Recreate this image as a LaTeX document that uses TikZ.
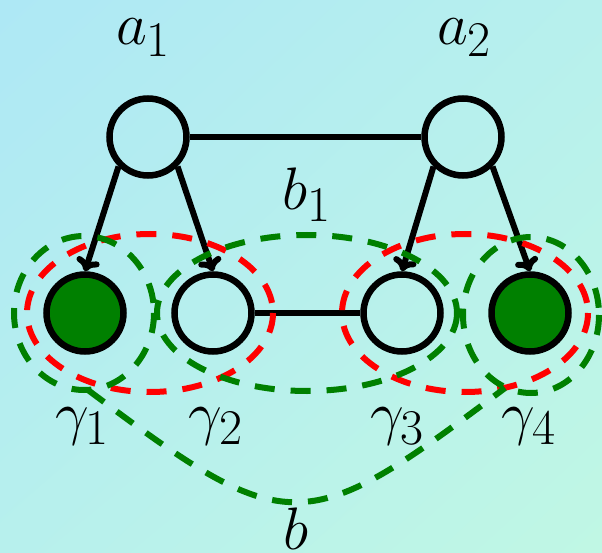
\documentclass[tikz,border=0pt]{standalone}
\usetikzlibrary{arrows.meta,shadings}
\definecolor{bgtl}{RGB}{174,232,245}
\definecolor{bgbr}{RGB}{192,247,228}
\definecolor{bgmix}{RGB}{183,240,237}
\definecolor{dkgreen}{RGB}{0,128,0}
\begin{document}
\begin{tikzpicture}[x=1pt,y=-1pt,
  vert/.style={circle,draw=black,line width=6.5pt,minimum size=77pt,inner sep=0pt},
  obs/.style={vert,fill=dkgreen},
  edge/.style={line width=6pt},
  arr/.style={edge,-{Computer Modern Rightarrow[length=13pt,width=24pt]}},
  lab/.style={font=\Huge,scale=2.41,inner sep=0pt,anchor=base},
  redset/.style={draw=red,line width=6pt,dash pattern=on 20pt off 16pt},
  greenset/.style={draw=dkgreen,line width=6pt,dash pattern=on 20pt off 16pt},
]
\useasboundingbox (0,0) rectangle (602,553);
\shade[upper left=bgtl, lower right=bgbr, upper right=bgmix, lower left=bgmix] (0,0) rectangle (602,553);

\node[vert] (a1) at (148,137) {};
\node[vert] (a2) at (463,137) {};
\node[obs]  (g1) at (85,313) {};
\node[vert] (g2) at (213,313) {};
\node[vert] (g3) at (402,313) {};
\node[obs]  (g4) at (530,313) {};

\draw[edge] (a1) -- (a2);
\draw[edge] (g2) -- (g3);
\draw[arr] (a1.-135) -- (g1.north);
\draw[arr] (a1.-45) -- (g2.north);
\draw[arr] (a2.-135) -- (g3.north);
\draw[arr] (a2.-45) -- (g4.north);

\draw[redset] (150,313) ellipse [x radius=123, y radius=79];
\draw[redset] (465,313) ellipse [x radius=123, y radius=79];
\draw[greenset] (84,313) ellipse [x radius=70, y radius=77];
\draw[greenset] (531,315) ellipse [x radius=68, y radius=78];
\draw[greenset] (307,313) ellipse [x radius=150, y radius=78];

\coordinate (bs) at (88,390);
\coordinate (be) at (505,388);
\draw[greenset] (bs) .. controls (289,541) and (304,539) .. (be);

\node[lab] (la1) at (143.5,45) {$a_1$};
\node[lab] (la2) at (464.5,45) {$a_2$};
\node[lab] (lb1) at (307.5,210) {$b_1$};
\node[lab] (lg1) at (82.5,433) {$\gamma_1$};
\node[lab] (lg2) at (216,433) {$\gamma_2$};
\node[lab] (lg3) at (397.5,433) {$\gamma_3$};
\node[lab] (lg4) at (529,433) {$\gamma_4$};
\node[lab] (lb) at (296,549) {$b$};
\end{tikzpicture}
\end{document}
